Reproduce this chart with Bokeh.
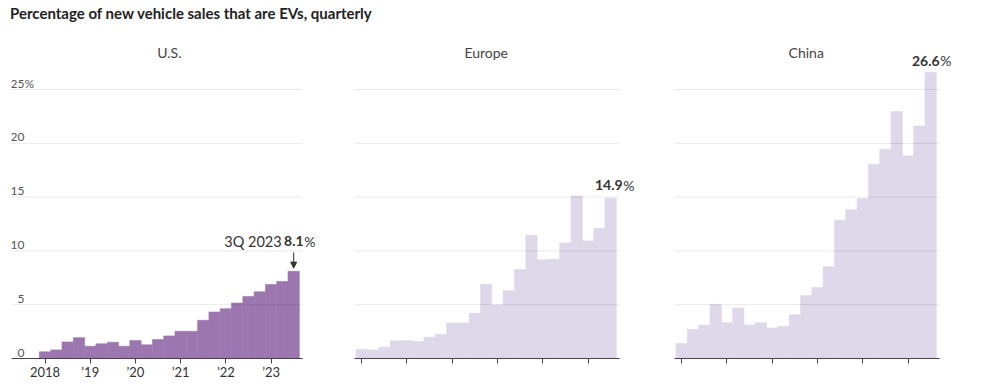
from bokeh.plotting import figure
from bokeh.layouts import row, column
from bokeh.models import Div, FixedTicker, Label, Range1d, Arrow, NormalHead
from bokeh.core.properties import value
from bokeh.embed import file_html
from bokeh.resources import INLINE

# ---------------- data ----------------
years = [2018, 2019, 2020, 2021, 2022, 2023]
quarter_nums = [1, 2, 3, 4]
n_quarters = 23  # 1Q 2018 .. 3Q 2023
quarter_names = [f"{q}Q {y}" for y in years for q in quarter_nums][:n_quarters]

us = [0.62, 0.80, 1.54, 1.94, 1.14, 1.36, 1.51, 1.14, 1.67, 1.27, 1.76, 2.10,
      2.53, 2.53, 3.55, 4.32, 4.63, 5.15, 5.77, 6.20, 6.88, 7.16, 8.1]
europe = [0.86, 0.80, 1.05, 1.64, 1.67, 1.57, 1.98, 2.25, 3.30, 3.30, 4.20, 6.91,
          4.97, 6.30, 8.27, 11.45, 9.17, 9.23, 10.74, 15.1, 10.93, 12.10, 14.9]
china = [1.39, 2.69, 3.12, 5.03, 3.33, 4.69, 3.12, 3.33, 2.84, 2.99, 4.07, 5.86,
         6.60, 8.52, 12.84, 13.83, 14.85, 18.06, 19.44, 22.96, 18.83, 21.60, 26.6]

year_labels = ["2018", "\u201919", "\u201920", "\u201921", "\u201922", "\u201923"]
y_ticks = [0, 5, 10, 15, 20, 25]
y_tick_labels = ["0", "5", "10", "15", "20", "25"]
panel_names = ["U.S.", "Europe", "China"]
title_text = "Percentage of new vehicle sales that are EVs, quarterly"

# ---------------- style ----------------
FONT = "Lato"
US_COLOR = "#9c76ae"
OTHER_COLOR = "#dfd7ea"
TEXT_DARK = "#333333"
FRAME_H = 328
PX_PER_UNIT = 10.76          # vertical pixels per percentage point
PX_PER_Q = 11.3              # horizontal pixels per quarter
Y_END = FRAME_H / PX_PER_UNIT
X_END = 22.78                # end of axis line / gridlines
EXTRA_PX = 22                # room on the right for the end labels

idx = list(range(len(quarter_names)))
year_ticks = [i for i, n in enumerate(quarter_names) if n.startswith("1Q")]


def panel(vals, name, color, x_start, border_left, frame_w, border_right, show_xlabels):
    x_frame_end = X_END + EXTRA_PX / PX_PER_Q
    p = figure(frame_width=frame_w + EXTRA_PX, frame_height=FRAME_H,
               x_range=Range1d(x_start, x_frame_end), y_range=Range1d(0, Y_END),
               output_backend="svg", toolbar_location=None,
               min_border_left=border_left, min_border_right=border_right,
               min_border_top=0, min_border_bottom=22,
               y_axis_location=None, outline_line_color=None)
    p.vbar(x=idx, top=vals, bottom=0, width=1, fill_color=color,
           line_color=color, line_width=0.6)
    p.xgrid.visible = False
    p.ygrid.visible = False
    grid_vals = y_ticks[1:]
    p.segment(x0=[x_start] * len(grid_vals), x1=[X_END] * len(grid_vals),
              y0=grid_vals, y1=grid_vals, line_color="#000000", line_alpha=0.09,
              line_width=1)

    ax = p.xaxis[0]
    ax.bounds = (x_start, X_END)
    ax.ticker = FixedTicker(ticks=year_ticks)
    ax.minor_tick_line_color = None
    ax.axis_line_color = "#444444"
    ax.major_tick_line_color = "#444444"
    ax.major_tick_in = 0
    ax.major_tick_out = 5
    ax.major_label_standoff = 0
    ax.major_label_text_font = FONT
    ax.major_label_text_font_size = "13px"
    ax.major_label_text_color = TEXT_DARK
    if show_xlabels:
        ax.major_label_overrides = {t: l for t, l in zip(year_ticks, year_labels)}
    else:
        ax.major_label_overrides = {t: "" for t in year_ticks}

    p.add_layout(Label(x=(idx[0] + idx[-1]) / 2, y=Y_END, y_offset=-22, text=name,
                       text_align="center", text_baseline="middle",
                       text_font=FONT, text_font_size="14px", text_color="#444444"))
    return p


def end_label(p, vals, dx, dy):
    last = idx[-1]
    p.add_layout(Label(x=last, y=vals[-1], x_offset=dx, y_offset=dy,
                       text=f"{vals[-1]:.1f}", text_align="right", text_baseline="middle",
                       text_font=FONT, text_font_size="14px", text_font_style="bold",
                       text_color=TEXT_DARK))
    p.add_layout(Label(x=last, y=vals[-1], x_offset=dx + 0.5, y_offset=dy,
                       text="%", text_align="left", text_baseline="middle",
                       text_font=FONT, text_font_size="14px",
                       text_color=TEXT_DARK))


us_p = panel(us, panel_names[0], US_COLOR, -2.97, 11, 291, 6, True)
eu_p = panel(europe, panel_names[1], OTHER_COLOR, -0.64, 24, 265, 9, False)
cn_p = panel(china, panel_names[2], OTHER_COLOR, -0.64, 24, 265, 8, False)

# y tick labels (U.S. panel only)
LABEL_X = -1.82
us_p.text(x=[LABEL_X] * len(y_ticks), y=y_ticks, text=y_tick_labels,
          text_align="right", text_baseline="alphabetic", y_offset=-6,
          text_font=value(FONT), text_font_size="12px", text_color="#555555")
us_p.text(x=[LABEL_X], y=[y_ticks[-1]], text=["%"],
          text_align="left", text_baseline="alphabetic", y_offset=-6,
          text_font=value(FONT), text_font_size="12px", text_color="#555555")

# annotations
last = idx[-1]
us_p.add_layout(Label(x=last, y=us[-1], x_offset=-12, y_offset=30,
                      text=quarter_names[-1], text_align="right", text_baseline="middle",
                      text_font=FONT, text_font_size="14.5px", text_color=TEXT_DARK))
end_label(us_p, us, 10, 30)
us_p.add_layout(Arrow(x_start=last, y_start=us[-1] + 1.77, x_end=last, y_end=us[-1] + 0.3,
                      line_color=TEXT_DARK, line_width=1,
                      end=NormalHead(size=6, fill_color=TEXT_DARK, line_color=TEXT_DARK)))
end_label(eu_p, europe, 12, 13)
end_label(cn_p, china, 9, 11.5)

title = Div(text=f'<div style="font-family:{FONT};font-weight:bold;font-size:15px;'
                 f'line-height:19px;padding-top:4px;color:#222222;padding-left:10px;margin:0;">{title_text}</div>',
            width=600, height=30, margin=(0, 0, 0, 0))

layout = column(title, row(us_p, eu_p, cn_p))

open("out.html", "w").write(file_html(layout, INLINE))
